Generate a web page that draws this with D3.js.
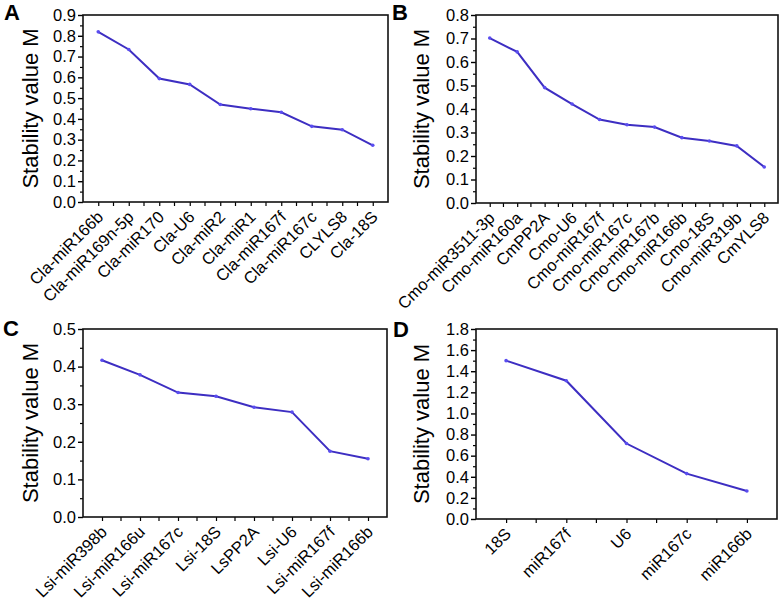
<!DOCTYPE html>
<html>
<head>
<meta charset="utf-8">
<script src="https://cdn.jsdelivr.net/npm/d3@7"></script>
<style>
  body { margin: 0; background: #fff; }
  svg { display: block; font-family: "Liberation Sans", Arial, sans-serif; }
</style>
</head>
<body>
<svg id="chart" width="780" height="603"></svg>
<script>
// panel A - watermelon
var catsA = ['Cla-miR166b', 'Cla-miR169n-5p', 'Cla-miR170', 'Cla-U6', 'Cla-miR2', 'Cla-miR1', 'Cla-miR167f', 'Cla-miR167c', 'CLYLS8', 'Cla-18S'];
var valsA = [0.819, 0.734, 0.594, 0.566, 0.469, 0.449, 0.432, 0.364, 0.348, 0.273];
// panel B - melon
var catsB = ['Cmo-miR3511-3p', 'Cmo-miR160a', 'CmPP2A', 'Cmo-U6', 'Cmo-miR167f', 'Cmo-miR167c', 'Cmo-miR167b', 'Cmo-miR166b', 'Cmo-18S', 'Cmo-miR319b', 'CmYLS8'];
var valsB = [0.702, 0.643, 0.491, 0.421, 0.355, 0.333, 0.323, 0.278, 0.264, 0.243, 0.153];
// panel C
var catsC = ['Lsi-miR398b', 'Lsi-miR166u', 'Lsi-miR167c', 'Lsi-18S', 'LsPP2A', 'Lsi-U6', 'Lsi-miR167f', 'Lsi-miR166b'];
var valsC = [0.417, 0.378, 0.331, 0.321, 0.292, 0.279, 0.175, 0.155];
// panel D
var catsD = ['18S', 'miR167f', 'U6', 'miR167c', 'miR166b'];
var valsD = [1.50, 1.31, 0.715, 0.43, 0.265];

var yMaxA = 0.9, yMaxB = 0.8, yMaxC = 0.5, yMaxD = 1.8;
var stepA = 0.1, stepB = 0.1, stepC = 0.1, stepD = 0.2;

var svg = d3.select('#chart');
svg.append('rect').attr('width', 780).attr('height', 603).attr('fill', '#fff');

var lineColor = '#3d2ec2';

function drawPanel(opt) {
    var g = svg.append('g');
    var x = d3.scalePoint()
        .domain(opt.cats)
        .range([opt.left, opt.right])
        .padding(0.5);
    var y = d3.scaleLinear()
        .domain([0, opt.yMax])
        .range([opt.bottom, opt.top]);

    var majors = d3.range(0, opt.yMax + opt.step / 2, opt.step);
    var minors = d3.range(opt.step / 2, opt.yMax, opt.step);

    // minor y ticks
    g.append('g')
        .attr('transform', 'translate(' + opt.left + ',0)')
        .call(d3.axisLeft(y).tickValues(minors).tickSize(3).tickFormat(''))
        .call(function(s) { s.select('.domain').remove(); })
        .selectAll('line').attr('stroke-width', 1.2);

    var ya = g.append('g')
        .attr('transform', 'translate(' + opt.left + ',0)')
        .call(d3.axisLeft(y).tickValues(majors).tickSize(5).tickPadding(2).tickFormat(d3.format('.1f')));
    ya.select('.domain').remove();
    ya.selectAll('line').attr('stroke-width', 1.4);
    ya.selectAll('text').attr('font-size', 16.5).attr('fill', '#000')
        .style('font-family', '"Liberation Sans", Arial, sans-serif');

    // x ticks at categories and midpoints
    var xa = g.append('g')
        .attr('transform', 'translate(0,' + opt.bottom + ')')
        .call(d3.axisBottom(x).tickSize(4).tickFormat(''));
    xa.select('.domain').remove();
    xa.selectAll('line').attr('stroke-width', 1.2);
    var mids = opt.cats.slice(0, -1).map(function(c) { return x(c) + x.step() / 2; });
    g.selectAll('.mid').data(mids).enter().append('line')
        .attr('x1', function(d) { return d; }).attr('x2', function(d) { return d; })
        .attr('y1', opt.bottom).attr('y2', opt.bottom + 4)
        .attr('stroke', '#000').attr('stroke-width', 1.2);

    // rotated category labels
    g.selectAll('.xl').data(opt.cats).enter().append('text')
        .attr('transform', function(d) {
            return 'translate(' + (x(d) + 6) + ',' + (opt.bottom + 16) + ') rotate(-45)';
        })
        .attr('text-anchor', 'end')
        .attr('font-size', 16.5)
        .text(function(d) { return d; });

    // frame
    g.append('rect')
        .attr('x', opt.left).attr('y', opt.top)
        .attr('width', opt.right - opt.left).attr('height', opt.bottom - opt.top)
        .attr('fill', 'none').attr('stroke', '#111').attr('stroke-width', 1.6);

    var data = opt.cats.map(function(c, i) { return { c: c, v: opt.vals[i] }; });
    var line = d3.line()
        .x(function(d) { return x(d.c); })
        .y(function(d) { return y(d.v); });
    g.append('path').datum(data)
        .attr('d', line)
        .attr('fill', 'none')
        .attr('stroke', lineColor)
        .attr('stroke-width', 2);
    g.selectAll('.pt').data(data).enter().append('circle')
        .attr('cx', function(d) { return x(d.c); })
        .attr('cy', function(d) { return y(d.v); })
        .attr('r', 1.8)
        .attr('fill', '#5a4df0');

    // y title
    g.append('text')
        .attr('transform', 'translate(' + opt.titleX + ',' + ((opt.top + opt.bottom) / 2) + ') rotate(-90)')
        .attr('text-anchor', 'middle')
        .attr('font-size', 22)
        .text('Stability value M');

    g.append('text')
        .attr('x', opt.letterX).attr('y', opt.letterY)
        .attr('font-size', 22).attr('font-weight', 'bold')
        .text(opt.letter);
}

drawPanel({ cats: catsA, vals: valsA, yMax: yMaxA, step: stepA, left: 83, right: 388, top: 15, bottom: 202, titleX: 38, letter: 'A', letterX: 4, letterY: 20 });
drawPanel({ cats: catsB, vals: valsB, yMax: yMaxB, step: stepB, left: 476, right: 778, top: 15, bottom: 203, titleX: 429, letter: 'B', letterX: 392, letterY: 20 });
drawPanel({ cats: catsC, vals: valsC, yMax: yMaxC, step: stepC, left: 83, right: 387, top: 329, bottom: 517, titleX: 38, letter: 'C', letterX: 3, letterY: 336 });
drawPanel({ cats: catsD, vals: valsD, yMax: yMaxD, step: stepD, left: 476, right: 777, top: 329, bottom: 519, titleX: 429, letter: 'D', letterX: 393, letterY: 337 });
</script>
</body>
</html>
